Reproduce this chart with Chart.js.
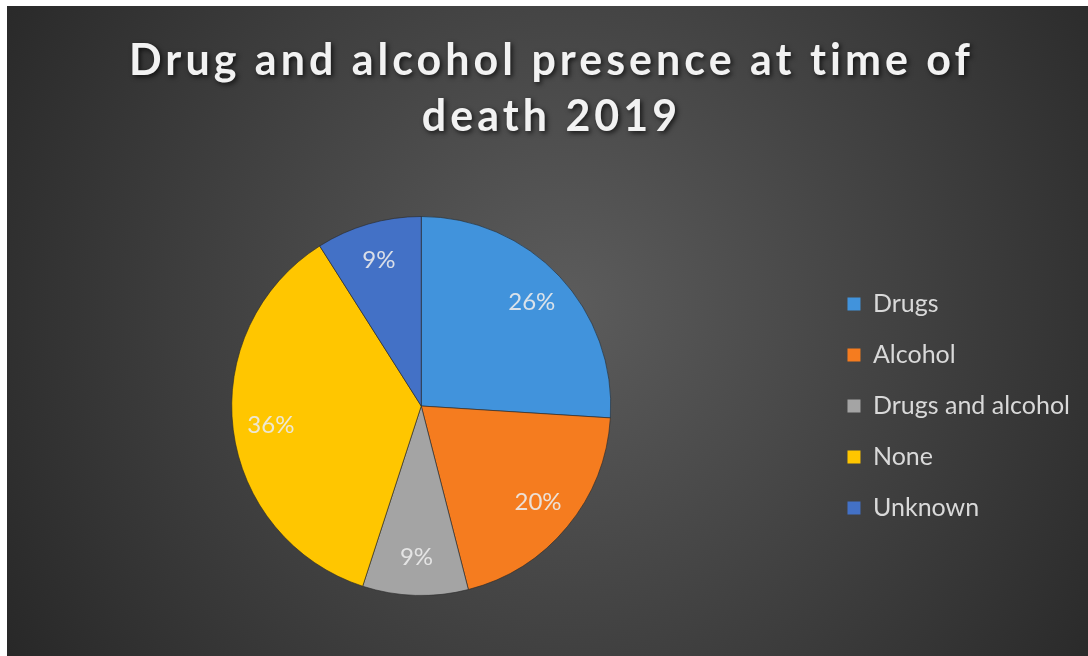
<!DOCTYPE html>
<html>
<head>
<meta charset="utf-8">
<script src="https://cdn.jsdelivr.net/npm/chart.js@4"></script>
<style>
    html, body { margin: 0; padding: 0; background: #ffffff; }
    #wrap { position: absolute; left: 7px; top: 6px; width: 1081px; height: 650px; }
</style>
</head>
<body>
<div id="wrap"><canvas id="deathChart"></canvas></div>
<script>
const titleLines = ['Drug and alcohol presence at time of', 'death 2019'];
const categories = ['Drugs', 'Alcohol', 'Drugs and alcohol', 'None', 'Unknown'];
const percentages = [26, 20, 9, 36, 9];
const sliceColors = ['#4193dc', '#f57c1f', '#a4a4a4', '#ffc600', '#4371c6'];

// light rim + soft shading on each slice, like the bevelled original
function sliceFill(context) {
    const chart = context.chart;
    const base = sliceColors[context.dataIndex];
    const meta = chart.getDatasetMeta(0);
    const arc = meta.data[context.dataIndex];
    if (!arc || !arc.outerRadius) return base;
    const ctx = chart.ctx;
    const g = ctx.createRadialGradient(arc.x, arc.y, 0, arc.x, arc.y, arc.outerRadius);
    g.addColorStop(0, shade(base, -8));
    g.addColorStop(0.88, base);
    g.addColorStop(0.95, shade(base, 28));
    g.addColorStop(1, shade(base, -30));
    return g;
}

function shade(hex, amt) {
    const n = parseInt(hex.slice(1), 16);
    const c = v => Math.max(0, Math.min(255, v + amt));
    const r = c(n >> 16), g = c((n >> 8) & 255), b = c(n & 255);
    return `rgb(${r},${g},${b})`;
}

const backgroundPlugin = {
    id: 'darkBackground',
    beforeDraw(chart) {
        const ctx = chart.ctx;
        const w = chart.width, h = chart.height;
        const g = ctx.createRadialGradient(560, 300, 0, 560, 300, 720);
        g.addColorStop(0, '#5c5c5c');
        g.addColorStop(1, '#232323');
        ctx.save();
        ctx.fillStyle = g;
        ctx.fillRect(0, 0, w, h);
        ctx.restore();
    }
};

const titlePlugin = {
    id: 'spacedTitle',
    afterDraw(chart) {
        const ctx = chart.ctx;
        ctx.save();
        ctx.font = 'bold 43px Lato';
        ctx.letterSpacing = '4px';
        ctx.textAlign = 'center';
        ctx.textBaseline = 'alphabetic';
        ctx.fillStyle = '#f2f2f2';
        ctx.shadowColor = 'rgba(0,0,0,0.7)';
        ctx.shadowBlur = 5;
        ctx.shadowOffsetX = 2;
        ctx.shadowOffsetY = 2;
        titleLines.forEach((line, i) => {
            ctx.fillText(line, chart.width / 2 + 4, 69 + i * 56);
        });
        ctx.restore();
    }
};

const labelPlugin = {
    id: 'sliceLabels',
    afterDatasetsDraw(chart) {
        const ctx = chart.ctx;
        const meta = chart.getDatasetMeta(0);
        ctx.save();
        ctx.font = '24px Lato';
        ctx.textAlign = 'center';
        ctx.textBaseline = 'middle';
        ctx.fillStyle = 'rgba(235,235,235,0.9)';
        meta.data.forEach((arc, i) => {
            const p = arc.getProps(['x', 'y', 'startAngle', 'endAngle', 'outerRadius'], true);
            const mid = (p.startAngle + p.endAngle) / 2;
            const r = p.outerRadius * 0.8;
            ctx.fillText(percentages[i] + '%', p.x + Math.cos(mid) * r, p.y + Math.sin(mid) * r);
        });
        ctx.restore();
    }
};

const ctx = document.getElementById('deathChart').getContext('2d');
new Chart(ctx, {
    type: 'pie',
    data: {
        labels: categories,
        datasets: [{
            data: percentages,
            backgroundColor: sliceFill,
            borderColor: 'rgba(40,40,40,0.6)',
            borderWidth: 1
        }]
    },
    options: {
        responsive: true,
        maintainAspectRatio: false,
        animation: false,
        layout: {
            padding: { top: 210, bottom: 60, left: 14, right: 8 }
        },
        plugins: {
            tooltip: { enabled: false },
            legend: {
                position: 'right',
                labels: {
                    font: { family: 'Lato', size: 25 },
                    color: '#d9d9d9',
                    boxWidth: 13,
                    boxHeight: 13,
                    padding: 26,
                    generateLabels(chart) {
                        return categories.map((c, i) => ({
                            text: c,
                            fillStyle: sliceColors[i],
                            strokeStyle: sliceColors[i],
                            lineWidth: 0,
                            fontColor: '#d9d9d9',
                            hidden: false,
                            index: i
                        }));
                    }
                }
            }
        }
    },
    plugins: [backgroundPlugin, titlePlugin, labelPlugin]
});
</script>
</body>
</html>
